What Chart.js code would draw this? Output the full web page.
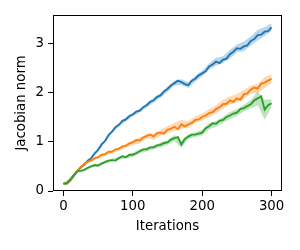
<!DOCTYPE html>
<html>
<head>
<meta charset="utf-8">
<script src="https://cdn.jsdelivr.net/npm/chart.js@4.4.0/dist/chart.umd.min.js"></script>
<style>
  html, body { margin: 0; padding: 0; background: #fff; }
  #wrap { width: 300px; height: 250px; }
</style>
</head>
<body>
<div id="wrap"><canvas id="chart"></canvas></div>
<script>
/* ─── Data ──────────────────────────────────────────────────────────────── */
const iters = [0, 5, 10, 15, 20, 25, 30, 35, 40, 45, 50, 55, 60, 65, 70, 75, 80, 85, 90, 95,
  100, 105, 110, 115, 120, 125, 130, 135, 140, 145, 150, 155, 160, 165, 170, 175, 180, 185, 190, 195,
  200, 205, 210, 215, 220, 225, 230, 235, 240, 245, 250, 255, 260, 265, 270, 275, 280, 285, 290, 295, 300];

const blueMean = [0.15, 0.15, 0.21, 0.31, 0.40, 0.48, 0.54, 0.62, 0.67, 0.77, 0.84, 0.95, 1.02, 1.14, 1.21, 1.30, 1.35, 1.43, 1.46, 1.53,
  1.56, 1.62, 1.64, 1.71, 1.75, 1.82, 1.85, 1.92, 1.95, 2.03, 2.08, 2.15, 2.20, 2.25, 2.22, 2.18, 2.16, 2.25, 2.29, 2.36,
  2.40, 2.44, 2.54, 2.58, 2.64, 2.61, 2.68, 2.70, 2.79, 2.84, 2.91, 2.90, 2.95, 2.97, 3.06, 3.10, 3.18, 3.19, 3.25, 3.26, 3.34];

const orangeMean = [0.15, 0.15, 0.22, 0.32, 0.41, 0.49, 0.55, 0.60, 0.62, 0.67, 0.69, 0.74, 0.75, 0.80, 0.80, 0.85, 0.86, 0.91, 0.92, 0.97,
  0.99, 1.04, 1.03, 1.09, 1.12, 1.15, 1.11, 1.18, 1.19, 1.17, 1.25, 1.27, 1.31, 1.26, 1.36, 1.32, 1.36, 1.39, 1.45, 1.46,
  1.51, 1.54, 1.59, 1.61, 1.67, 1.71, 1.77, 1.78, 1.85, 1.82, 1.89, 1.86, 1.97, 1.99, 2.07, 2.11, 2.09, 2.19, 2.21, 2.25, 2.29];

const greenMean = [0.15, 0.16, 0.24, 0.33, 0.40, 0.41, 0.43, 0.47, 0.50, 0.53, 0.52, 0.56, 0.59, 0.62, 0.63, 0.62, 0.67, 0.71, 0.69, 0.74,
  0.74, 0.77, 0.81, 0.85, 0.85, 0.89, 0.89, 0.93, 0.94, 0.98, 0.99, 1.05, 1.08, 1.10, 0.95, 1.06, 1.11, 1.15, 1.15, 1.17,
  1.19, 1.28, 1.32, 1.38, 1.37, 1.43, 1.45, 1.51, 1.54, 1.58, 1.60, 1.67, 1.69, 1.73, 1.77, 1.85, 1.89, 1.93, 1.66, 1.75, 1.79];

/* half-width of the shaded band, every 10 iterations */
const blueSpread   = [0.01, 0.02, 0.02, 0.02, 0.02, 0.03, 0.03, 0.03, 0.03, 0.04, 0.04, 0.04, 0.04, 0.05, 0.05, 0.05,
  0.05, 0.06, 0.06, 0.06, 0.06, 0.06, 0.08, 0.07, 0.09, 0.08, 0.10, 0.09, 0.11, 0.09, 0.08];
const orangeSpread = [0.01, 0.02, 0.02, 0.02, 0.03, 0.03, 0.03, 0.03, 0.04, 0.04, 0.05, 0.06, 0.05, 0.06, 0.06, 0.07,
  0.08, 0.09, 0.07, 0.07, 0.07, 0.08, 0.08, 0.09, 0.08, 0.09, 0.09, 0.08, 0.10, 0.11, 0.09];
const greenSpread  = [0.01, 0.02, 0.02, 0.02, 0.02, 0.03, 0.03, 0.03, 0.03, 0.03, 0.04, 0.04, 0.04, 0.04, 0.05, 0.05,
  0.06, 0.07, 0.05, 0.05, 0.06, 0.06, 0.06, 0.06, 0.07, 0.07, 0.07, 0.08, 0.14, 0.20, 0.08];

const xTicks = [0, 100, 200, 300];
const yTicks = [0, 1, 2, 3];

/* ─── Helpers ────────────────────────────────────────────────────────────── */
const FONT = { family: 'DejaVu Sans', size: 13.3 };

function line(mean, color, order) {
  return {
    data: iters.map((x, i) => ({ x, y: mean[i] })),
    borderColor: color,
    borderWidth: 1.9,
    pointRadius: 0,
    fill: false,
    tension: 0,
    order
  };
}

/* band = upper edge + lower edge filled back to the upper one */
function band(mean, spread, fillColor) {
  const pts = spread.map((s, i) => ({ x: iters[i * 2], m: mean[i * 2], s }));
  return [
    { data: pts.map(p => ({ x: p.x, y: p.m + p.s })), borderWidth: 0, pointRadius: 0, fill: false, order: 10 },
    { data: pts.map(p => ({ x: p.x, y: p.m - p.s })), borderWidth: 0, pointRadius: 0,
      fill: '-1', backgroundColor: fillColor, order: 10 }
  ];
}

const frame = {
  id: 'frame',
  afterDraw(chart) {
    const { ctx, chartArea: a } = chart;
    ctx.save();
    ctx.strokeStyle = '#000';
    ctx.lineWidth = 1;
    ctx.strokeRect(Math.round(a.left) + 0.5, Math.round(a.top) + 0.5,
      Math.round(a.right - a.left) - 1, Math.round(a.bottom - a.top) - 1);
    ctx.restore();
  }
};

/* ─── Chart ──────────────────────────────────────────────────────────────── */
new Chart(document.getElementById('chart'), {
  type: 'line',
  data: {
    datasets: [
      ...band(blueMean, blueSpread, 'rgba(31,119,180,0.3)'),
      ...band(orangeMean, orangeSpread, 'rgba(255,127,14,0.3)'),
      ...band(greenMean, greenSpread, 'rgba(44,160,44,0.3)'),
      line(blueMean, '#1f77b4', 3),
      line(orangeMean, '#ff7f0e', 2),
      line(greenMean, '#2ca02c', 1)
    ]
  },
  options: {
    responsive: true,
    maintainAspectRatio: false,
    animation: false,
    layout: { padding: { left: 0, top: 15, right: 18, bottom: 0 } },
    plugins: { legend: { display: false }, tooltip: { enabled: false } },
    scales: {
      x: {
        type: 'linear',
        min: -15,
        max: 315,
        afterBuildTicks: s => { s.ticks = xTicks.map(v => ({ value: v })); },
        afterFit: s => { s.height = 59; },
        grid: { drawOnChartArea: false, drawTicks: true, tickLength: 5, color: '#000' },
        border: { display: false },
        ticks: { color: '#000', font: FONT, padding: 3, maxRotation: 0 },
        title: { display: true, text: 'Iterations', color: '#000', font: FONT, padding: { top: 0, bottom: 15 } }
      },
      y: {
        min: 0,
        max: 3.59,
        afterBuildTicks: s => { s.ticks = yTicks.map(v => ({ value: v })); },
        afterFit: s => { s.width = 53; },
        grid: { drawOnChartArea: false, drawTicks: true, tickLength: 5, color: '#000' },
        border: { display: false },
        ticks: { color: '#000', font: FONT, padding: 4 },
        title: { display: true, text: 'Jacobian norm', color: '#000', font: FONT, padding: { top: 14, bottom: 0 } }
      }
    }
  },
  plugins: [frame]
});
</script>
</body>
</html>
